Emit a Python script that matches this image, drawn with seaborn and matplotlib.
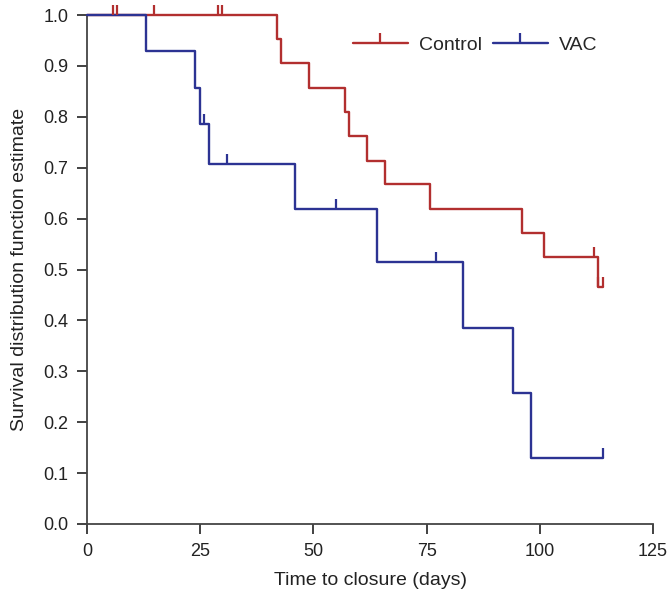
import matplotlib
matplotlib.use("Agg")
import matplotlib.pyplot as plt
from matplotlib.lines import Line2D
import seaborn as sns
import pandas as pd

# Step data
control_time = [0, 42.0, 42.9, 49.0, 57.0, 57.9, 61.9, 65.8, 75.8, 96.0, 101.0, 112.9, 113.9]
control_surv = [1.0, 0.952, 0.905, 0.857, 0.810, 0.762, 0.714, 0.667, 0.619, 0.571, 0.524, 0.465, 0.465]
control_cens_time = [5.7, 6.6, 14.8, 28.9, 29.8, 112.0, 112.9, 113.9]
control_cens_surv = [1.0, 1.0, 1.0, 1.0, 1.0, 0.524, 0.465, 0.465]

vac_time = [0, 13.0, 23.9, 25.0, 27.0, 46.0, 64.0, 83.0, 94.0, 98.0, 114.0]
vac_surv = [1.0, 0.929, 0.857, 0.786, 0.707, 0.619, 0.515, 0.386, 0.257, 0.129, 0.129]
vac_cens_time = [25.9, 30.9, 55.0, 77.0, 114.0]
vac_cens_surv = [0.786, 0.707, 0.619, 0.515, 0.129]

groups = ["Control", "VAC"]
colors = {"Control": "#b22f2f", "VAC": "#2c3393"}
x_ticks = [0, 25, 50, 75, 100, 125]
y_ticks = [0.0, 0.1, 0.2, 0.3, 0.4, 0.5, 0.6, 0.7, 0.8, 0.9, 1.0]

sns.set_theme(style="ticks")
plt.rcParams["font.family"] = ["Liberation Sans", "DejaVu Sans"]

fig = plt.figure(figsize=(6.69, 5.95), dpi=100)
ax = fig.add_axes([87 / 669, 1 - 524 / 595, 566 / 669, 509 / 595])

curves = {
    "Control": (control_time, control_surv, control_cens_time, control_cens_surv),
    "VAC": (vac_time, vac_surv, vac_cens_time, vac_cens_surv),
}

for g in groups:
    t, s, ct, cs = curves[g]
    df = pd.DataFrame({"time": t, "surv": s})
    sns.lineplot(data=df, x="time", y="surv", ax=ax, estimator=None, sort=False,
                 drawstyle="steps-post", color=colors[g], linewidth=1.7,
                 clip_on=False, zorder=3 if g == "VAC" else 2)
    ax.plot(ct, cs, linestyle="none", marker=2, markersize=7, markeredgewidth=1.6,
            color=colors[g], clip_on=False, zorder=4)

ax.set_xlim(0, 125)
ax.set_ylim(0, 1.0)
ax.set_xticks(x_ticks)
ax.set_yticks(y_ticks)
ax.set_yticklabels([f"{v:.1f}" for v in y_ticks])
ax.set_xlabel("Time to closure (days)", fontsize=14, color="#222222", labelpad=9)
ax.set_ylabel("Survival distribution function estimate", fontsize=14, color="#222222", labelpad=11)
ax.tick_params(direction="out", length=7.5, width=1.3, colors="#333333", labelsize=13,
               labelcolor="#222222", pad=6)
sns.despine(ax=ax)
for sp in ["left", "bottom"]:
    ax.spines[sp].set_linewidth(1.3)
    ax.spines[sp].set_color("#444444")

handles = [Line2D([0], [0], color=colors[g], linewidth=1.7, marker=2, markersize=7,
                  markeredgewidth=1.6) for g in groups]
ax.legend(handles, groups, loc="center", bbox_to_anchor=((475 - 87) / 566, (524 - 45) / 509),
          ncol=2, frameon=False, fontsize=14, handlelength=2.83, handletextpad=0.57,
          columnspacing=0.57, borderpad=0, borderaxespad=0)

fig.savefig("out.png", dpi=100)
